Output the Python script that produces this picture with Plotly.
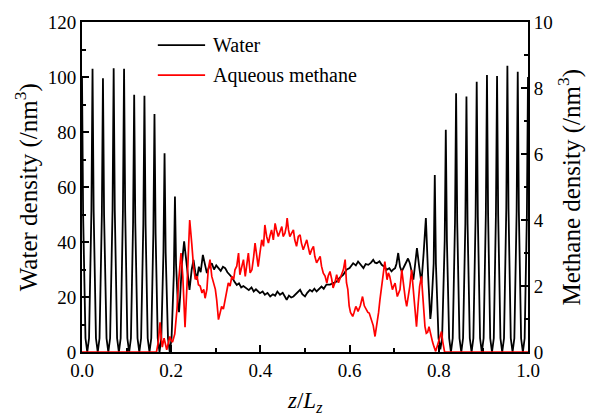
import plotly.graph_objects as go

# ---------------- data ----------------
# Water density profile, (z/Lz, density /nm^3), left axis
water = [
    (0.0000, 100), (0.0025, 50), (0.0078, 5), (0.0118, 0), (0.0158, 5),
    (0.0211, 51.5), (0.0236, 103), (0.0261, 51.5), (0.0313, 5), (0.0353, 0), (0.0393, 5),
    (0.0445, 49.8), (0.0470, 99.5), (0.0495, 49.8), (0.0550, 5), (0.0590, 0), (0.0630, 5),
    (0.0685, 51.6), (0.0710, 103.2), (0.0735, 51.6), (0.0787, 5), (0.0827, 0), (0.0867, 5),
    (0.0918, 51.5), (0.0943, 103), (0.0968, 51.5), (0.1017, 5), (0.1057, 0), (0.1097, 5),
    (0.1145, 46.8), (0.1170, 93.5), (0.1195, 46.8), (0.1245, 5), (0.1285, 0), (0.1325, 5),
    (0.1375, 46.6), (0.1400, 93.2), (0.1425, 46.6), (0.1473, 5), (0.1513, 0), (0.1553, 5),
    (0.1600, 43.3), (0.1625, 86.5), (0.1650, 43.3), (0.1698, 5), (0.1738, 0), (0.1778, 5),
    (0.1826, 36.2), (0.1851, 72.3), (0.1876, 36.2), (0.1928, 5), (0.1968, 0), (0.2008, 5),
    (0.2059, 28.3), (0.2084, 56.5), (0.2109, 32), (0.2150, 17), (0.2175, 14.5), (0.2200, 20),
    (0.2240, 32), (0.2290, 40.2), (0.2350, 30), (0.2410, 22.6), (0.2460, 30), (0.2500, 33.5),
    (0.2540, 29), (0.2575, 26.3), (0.2620, 31), (0.2660, 29), (0.2710, 35.3), (0.2760, 31),
    (0.2800, 28.7), (0.2850, 31), (0.2910, 32.3), (0.2960, 30), (0.3010, 31.5), (0.3060, 30.5),
    (0.3110, 29.5), (0.3160, 31), (0.3210, 30.5), (0.3260, 29), (0.3320, 28), (0.3370, 27),
    (0.3420, 25.5), (0.3470, 24.4), (0.3520, 25), (0.3570, 23.5), (0.3620, 24), (0.3690, 23.2),
    (0.3740, 22.5), (0.3800, 23.5), (0.3850, 22), (0.3900, 22.8), (0.3950, 22), (0.3990, 21.4),
    (0.4050, 22), (0.4100, 20.8), (0.4160, 21.5), (0.4220, 20.2), (0.4280, 21), (0.4330, 20.5),
    (0.4380, 22), (0.4440, 20.8), (0.4500, 21.5), (0.4550, 19.8), (0.4590, 19.0), (0.4640, 20.5),
    (0.4690, 19.8), (0.4740, 20.2), (0.4790, 21), (0.4840, 21.5), (0.4890, 22.6), (0.4940, 21),
    (0.5000, 20.2), (0.5050, 21.5), (0.5110, 22.6), (0.5160, 22), (0.5210, 23), (0.5260, 22.0),
    (0.5310, 23), (0.5370, 23.8), (0.5420, 23), (0.5480, 24.5), (0.5560, 24.5), (0.5630, 25),
    (0.5710, 25.6), (0.5780, 27), (0.5860, 28.1), (0.5930, 29.9), (0.6000, 30.5), (0.6080, 32.3),
    (0.6140, 31.5), (0.6190, 32.9), (0.6250, 31.5), (0.6310, 30.5), (0.6360, 32), (0.6420, 31.7),
    (0.6480, 32.5), (0.6530, 33.5), (0.6570, 32.5), (0.6610, 32.3), (0.6670, 33), (0.6720, 31.7),
    (0.6780, 31), (0.6830, 29.9), (0.6890, 30.5), (0.6940, 29.3), (0.6980, 30), (0.7020, 30.5),
    (0.7050, 32), (0.7090, 36.0), (0.7130, 31), (0.7170, 29.3), (0.7220, 31), (0.7280, 33.5),
    (0.7310, 34), (0.7350, 32.3), (0.7390, 29), (0.7430, 26.3), (0.7470, 32), (0.7510, 37.8),
    (0.7560, 31), (0.7610, 25.1), (0.7660, 36), (0.7710, 48.7), (0.7760, 28), (0.7790, 15),
    (0.7810, 12), (0.7830, 15), (0.7885, 32.2), (0.7910, 64.4), (0.7935, 32.2), (0.7994, 5),
    (0.8034, 1), (0.8074, 5), (0.8132, 40.4), (0.8157, 80.8), (0.8182, 40.4), (0.8232, 5),
    (0.8272, 0), (0.8312, 5), (0.8363, 47), (0.8388, 94.1), (0.8413, 47), (0.8464, 5),
    (0.8504, 0), (0.8544, 5), (0.8595, 46.5), (0.8620, 92.9), (0.8645, 46.5), (0.8695, 5),
    (0.8735, 0), (0.8775, 5), (0.8825, 49.2), (0.8850, 98.3), (0.8875, 49.2), (0.8925, 5),
    (0.8965, 0), (0.9005, 5), (0.9055, 50.4), (0.9080, 100.7), (0.9105, 50.4), (0.9153, 5),
    (0.9193, 0), (0.9233, 5), (0.9281, 50.2), (0.9306, 100.4), (0.9331, 50.2), (0.9382, 5),
    (0.9422, 0), (0.9462, 5), (0.9513, 52), (0.9538, 104.1), (0.9563, 52), (0.9614, 5),
    (0.9654, 0), (0.9694, 5), (0.9745, 51), (0.9770, 101.9), (0.9795, 51), (0.9845, 5),
    (0.9885, 0), (0.9925, 5), (0.9975, 50), (1.0000, 100),
]

# Aqueous methane density profile, (z/Lz, density /nm^3), right axis
methane = [
    (0.000, 0), (0.167, 0), (0.171, 0.3), (0.175, 0.9), (0.178, 0.4), (0.180, 0.15),
    (0.184, 0.42), (0.187, 0.2), (0.190, 0.07), (0.194, 0.3), (0.197, 0.47), (0.200, 0.35),
    (0.203, 0.3), (0.208, 0.55), (0.213, 1.3), (0.217, 2.2), (0.222, 3.0), (0.226, 2.3),
    (0.231, 0.75), (0.236, 2.2), (0.2415, 4.0), (0.246, 3.3), (0.250, 2.6), (0.254, 2.2),
    (0.258, 2.3), (0.261, 2.04), (0.265, 2.0), (0.269, 1.79), (0.273, 1.9), (0.276, 1.63),
    (0.280, 1.9), (0.283, 2.49), (0.287, 2.8), (0.291, 2.29), (0.296, 2.09), (0.299, 1.9),
    (0.302, 1.58), (0.306, 0.98), (0.310, 1.2), (0.313, 1.38), (0.317, 1.3), (0.321, 1.58),
    (0.325, 1.8), (0.328, 2.09), (0.332, 2.0), (0.336, 2.29), (0.340, 2.2), (0.343, 2.49),
    (0.347, 2.6), (0.351, 3.0), (0.354, 2.34), (0.358, 2.6), (0.362, 2.8), (0.366, 2.29),
    (0.370, 2.7), (0.373, 3.0), (0.377, 2.4), (0.381, 2.49), (0.385, 2.9), (0.388, 3.3),
    (0.392, 2.9), (0.395, 2.59), (0.399, 3.0), (0.403, 3.4), (0.407, 3.2), (0.410, 3.85),
    (0.414, 3.5), (0.418, 3.3), (0.421, 3.5), (0.425, 3.7), (0.429, 3.4), (0.433, 3.9),
    (0.436, 3.7), (0.440, 3.5), (0.444, 3.65), (0.448, 3.8), (0.451, 3.5), (0.455, 3.6),
    (0.458, 3.8), (0.460, 4.06), (0.463, 3.7), (0.466, 3.5), (0.470, 3.6), (0.474, 3.7),
    (0.477, 3.4), (0.481, 3.2), (0.485, 3.5), (0.489, 3.55), (0.492, 3.3), (0.496, 3.1),
    (0.500, 3.25), (0.504, 3.4), (0.507, 3.2), (0.511, 2.95), (0.515, 3.1), (0.519, 3.2),
    (0.522, 2.9), (0.526, 2.7), (0.530, 2.8), (0.534, 2.9), (0.537, 2.6), (0.541, 2.39),
    (0.545, 2.3), (0.549, 2.09), (0.552, 2.3), (0.556, 2.44), (0.560, 2.2), (0.563, 1.94),
    (0.567, 2.1), (0.571, 2.34), (0.575, 2.1), (0.578, 2.2), (0.582, 2.3), (0.586, 2.49),
    (0.590, 2.8), (0.593, 2.1), (0.596, 1.9), (0.599, 1.4), (0.602, 1.2), (0.607, 1.08),
    (0.610, 1.2), (0.614, 1.38), (0.617, 1.3), (0.619, 1.23), (0.624, 1.4), (0.629, 1.68),
    (0.633, 1.4), (0.637, 1.28), (0.641, 1.2), (0.644, 1.18), (0.649, 0.98), (0.653, 0.8),
    (0.657, 0.47), (0.660, 0.7), (0.662, 0.88), (0.665, 1.2), (0.668, 1.58), (0.671, 1.9),
    (0.674, 2.19), (0.679, 2.74), (0.684, 2.19), (0.687, 2.4), (0.690, 2.29), (0.693, 2.1),
    (0.696, 1.89), (0.699, 2.0), (0.702, 2.09), (0.707, 1.68), (0.710, 1.8), (0.713, 1.89),
    (0.717, 2.49), (0.722, 1.89), (0.725, 1.6), (0.728, 1.38), (0.732, 1.7), (0.735, 1.99),
    (0.739, 2.49), (0.744, 1.79), (0.747, 1.2), (0.750, 0.77), (0.754, 1.5), (0.757, 1.99),
    (0.761, 2.29), (0.764, 1.6), (0.767, 0.9), (0.769, 0.77), (0.772, 0.57), (0.775, 0.6),
    (0.778, 0.77), (0.782, 0.5), (0.786, 0.3), (0.789, 0.17), (0.793, 0.02), (0.797, 0.2),
    (0.802, 0.45), (0.806, 0.62), (0.809, 0.3), (0.813, 0), (1.000, 0),
]

series_names = ["Water", "Aqueous methane"]
x_ticks = [0.0, 0.2, 0.4, 0.6, 0.8, 1.0]

water_z = [p[0] for p in water]
water_v = [p[1] for p in water]
meth_z = [p[0] for p in methane]
meth_v = [p[1] for p in methane]

# ---------------- figure ----------------
FONT = "Liberation Serif"
fig = go.Figure()
fig.add_trace(go.Scatter(x=water_z, y=water_v, mode="lines", name=series_names[0],
                         line=dict(color="#000000", width=1.8), yaxis="y", showlegend=False))
fig.add_trace(go.Scatter(x=meth_z, y=meth_v, mode="lines", name=series_names[1],
                         line=dict(color="#ff0000", width=1.7), yaxis="y2", showlegend=False))

axis_common = dict(showgrid=False, zeroline=False, showline=True, linecolor="black",
                   linewidth=1.8, ticks="inside", tickcolor="black", tickwidth=1.5,
                   ticklen=7, tickfont=dict(family=FONT, size=19, color="black"))

fig.update_layout(
    width=592, height=416,
    margin=dict(l=82, r=64, t=22, b=64),
    paper_bgcolor="white", plot_bgcolor="white",
    xaxis=dict(range=[0, 1], tickvals=x_ticks, tickformat=".1f", mirror=True,
               minor=dict(dtick=0.1, ticks="inside", ticklen=4, tickwidth=1.5, tickcolor="black"),
               layer="below traces", **axis_common),
    yaxis=dict(range=[0, 120], dtick=20,
               minor=dict(dtick=10, ticks="inside", ticklen=4, tickwidth=1.5, tickcolor="black"),
               **axis_common),
    yaxis2=dict(range=[0, 10], dtick=2, overlaying="y", side="right",
                minor=dict(dtick=1, ticks="inside", ticklen=4, tickwidth=1.5, tickcolor="black"),
                **axis_common),
)

# axis titles
fig.add_annotation(text="Water density (/nm<sup>3</sup>)", xref="paper", yref="paper",
                   x=-0.125, y=0.5, xanchor="center", yanchor="middle", textangle=-90,
                   showarrow=False, font=dict(family=FONT, size=25, color="black"))
fig.add_annotation(text="Methane density (/nm<sup>3</sup>)", xref="paper", yref="paper",
                   x=1.093, y=0.5, xanchor="center", yanchor="middle", textangle=-90,
                   showarrow=False, font=dict(family=FONT, size=25, color="black"))
fig.add_annotation(text="<i>z</i>/<i>L</i><sub><i>z</i></sub>", xref="paper", yref="paper",
                   x=0.5, y=-0.103, xanchor="center", yanchor="top",
                   showarrow=False, font=dict(family=FONT, size=23, color="black"))

# manual legend
leg_colors = ["#000000", "#ff0000"]
leg_y = [0.930, 0.839]
for name, col, yy in zip(series_names, leg_colors, leg_y):
    fig.add_shape(type="line", xref="paper", yref="paper", x0=0.170, x1=0.276, y0=yy, y1=yy,
                  line=dict(color=col, width=1.6))
    fig.add_annotation(text=name, xref="paper", yref="paper", x=0.289, y=yy,
                       xanchor="left", yanchor="middle", showarrow=False,
                       font=dict(family=FONT, size=20, color="black"))

fig.write_html("out.html")
